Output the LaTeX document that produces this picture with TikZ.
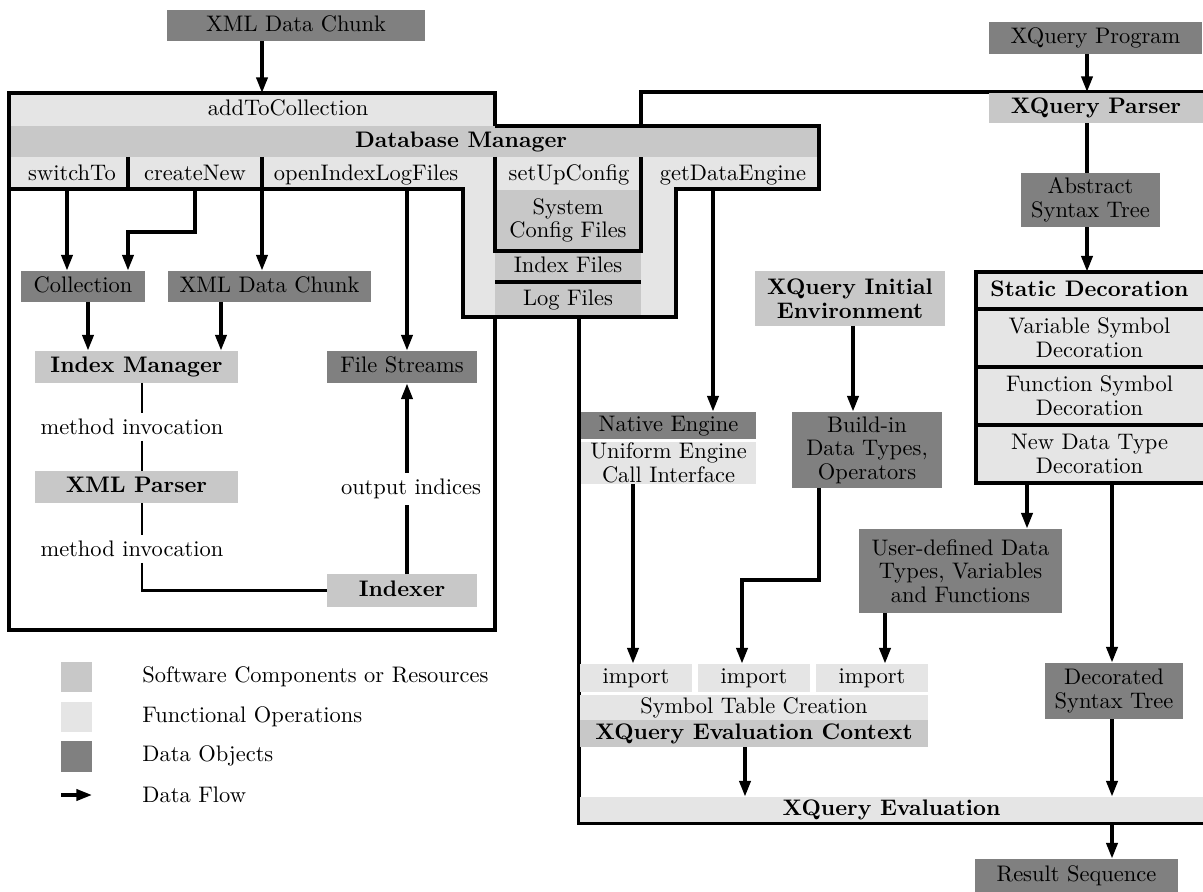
\documentclass[tikz,border=0pt]{standalone}
\usetikzlibrary{arrows.meta}
\definecolor{dk}{HTML}{808080}
\definecolor{md}{HTML}{C8C8C8}
\definecolor{lt}{HTML}{E5E5E5}
\tikzset{
  every node/.style={font=\fontsize{10pt}{10.5pt}\selectfont, align=center, inner sep=0pt},
  dkbox/.style={fill=dk},
  mdbox/.style={fill=md},
  ltbox/.style={fill=lt},
  one/.style={text height=7pt, text depth=2pt},
  lbl/.style={inner sep=2.5pt},
  arr/.style={line width=1.5pt, -{Triangle[length=7pt,width=5pt]}},
  ln/.style={line width=1.5pt},
  thinln/.style={line width=1pt},
  frame/.style={line width=1.4pt},
}
\newcommand\bx[7]{\node[#2, minimum width={(#5-#3)*0.445pt}, minimum height={(#6-#4)*0.445pt}] (#1) at ({(#3+#5)/2},{(#4+#6)/2}) {#7};}
\begin{document}
\begin{tikzpicture}[x=0.445pt,y=-0.445pt]
\useasboundingbox (0,0) rectangle (1203,892);

% ---------- Database Manager fills ----------
\fill[lt] (9,93) rectangle (495,126);
\fill[md] (9,126) rectangle (819,157);
\fill[lt] (9,157) rectangle (819,189);
\fill[lt] (463,189) rectangle (676,317);
\bx{sysc}{mdbox}{495}{190}{641}{251}{System\\Config Files}
\bx{ixf}{mdbox,one}{495}{251}{641}{282}{Index Files}
\bx{lgf}{mdbox,one}{495}{282}{641}{317}{Log Files}

\node[anchor=base] (addc) at (288,116) {addToCollection};
\node[anchor=base] (dbm) at (461,148) {\textbf{Database Manager}};
\node[anchor=base] (swt) at (72,181) {switchTo};
\node[anchor=base] (crn) at (195,181) {createNew};
\node[anchor=base] (oil) at (366,181) {openIndexLogFiles};
\node[anchor=base] (suc) at (569,181) {setUpConfig};
\node[anchor=base] (gde) at (733,181) {getDataEngine};

% ---------- outlines ----------
\draw[frame] (495,126) -- (495,93) -- (9,93) -- (9,630) -- (495,630) -- (495,317);
\draw[frame] (9,189) -- (463,189) -- (463,317) -- (676,317) -- (676,189) -- (819,189) -- (819,126) -- (495,126);
\draw[frame] (128,157) -- (128,189);
\draw[frame] (262,157) -- (262,189);
\draw[frame] (495,157) -- (495,251) -- (641,251) -- (641,157);
\draw[frame] (495,282) -- (641,282);
\draw[frame] (641,126) -- (641,92) -- (1210,92);
\draw[frame] (579,317) -- (579,823) -- (1210,823);

% ---------- left part ----------
\bx{xdc}{dkbox,one}{167}{10}{425}{41}{XML Data Chunk}
\bx{coll}{dkbox,one}{21}{271}{145}{302}{Collection}
\bx{xdcb}{dkbox,one}{168}{271}{371}{302}{XML Data Chunk}
\bx{im}{mdbox,one}{35}{351}{238}{383}{\textbf{Index Manager}}
\bx{fs}{dkbox,one}{327}{351}{477}{383}{File Streams}
\bx{xp}{mdbox,one}{35}{471}{238}{503}{\textbf{XML Parser}}
\bx{idx}{mdbox,one}{327}{574}{477}{607}{\textbf{Indexer}}
\node[lbl] (mia) at (132,427) {method invocation};
\node[lbl] (mib) at (132,549) {method invocation};
\node[lbl] (oi) at (411,489) {output indices};

% ---------- right part ----------
\bx{xqp}{dkbox,one}{989}{22}{1202}{54}{XQuery Program}
\bx{parser}{mdbox,one}{989}{93}{1203}{123}{\textbf{XQuery Parser}}
\bx{ast}{dkbox}{1021}{173}{1160}{227}{Abstract\\Syntax Tree}
\bx{sda}{ltbox,one}{976}{272}{1203}{309}{\textbf{Static Decoration}}
\bx{sdb}{ltbox}{976}{309}{1203}{367}{Variable Symbol\\Decoration}
\bx{sdc}{ltbox}{976}{367}{1203}{425}{Function Symbol\\Decoration}
\bx{sdd}{ltbox}{976}{425}{1203}{483}{New Data Type\\Decoration}
\draw[frame] (1210,272) -- (976,272) -- (976,483) -- (1210,483);
\draw[frame] (976,309) -- (1210,309);
\draw[frame] (976,367) -- (1210,367);
\draw[frame] (976,425) -- (1210,425);

\bx{env}{mdbox}{755}{271}{945}{326}{\textbf{XQuery Initial}\\\textbf{Environment}}
\bx{ne}{dkbox,one}{581}{412}{756}{439}{Native Engine}
\bx{ueci}{ltbox}{581}{442}{756}{484}{Uniform Engine\\Call Interface}
\bx{bi}{dkbox}{792}{412}{942}{488}{Build-in\\Data Types,\\Operators}
\bx{ud}{dkbox}{859}{529}{1062}{613}{User-defined Data\\Types, Variables\\and Functions}
\bx{impa}{ltbox,one}{580}{664}{692}{692}{import}
\bx{impb}{ltbox,one}{698}{664}{810}{692}{import}
\bx{impc}{ltbox,one}{816}{664}{928}{692}{import}
\bx{stc}{ltbox,one}{580}{695}{928}{720}{Symbol Table Creation}
\bx{ctx}{mdbox,one}{580}{720}{928}{747}{\textbf{XQuery Evaluation Context}}
\bx{dst}{dkbox}{1045}{663}{1183}{719}{Decorated\\Syntax Tree}
\bx{eval}{ltbox,one}{580}{797}{1203}{822}{\textbf{XQuery Evaluation}}
\bx{rs}{dkbox,one}{975}{859}{1178}{892}{Result Sequence}

% ---------- legend ----------
\bx{lga}{mdbox}{61}{662}{92}{692}{}
\bx{lgb}{ltbox}{61}{702}{92}{732}{}
\bx{lgc}{dkbox}{61}{741}{92}{772}{}
\coordinate (lgs) at (61,795);
\coordinate (lge) at (92,795);
\node[anchor=west] (lta) at (142,677) {Software Components or Resources};
\node[anchor=west] (ltb) at (142,717) {Functional Operations};
\node[anchor=west] (ltc) at (142,756) {Data Objects};
\node[anchor=west] (ltd) at (142,795) {Data Flow};
\draw[arr] (lgs) -- (lge);

% ---------- connectors ----------
\coordinate (c1) at (262,93);
\draw[arr] (xdc.south -| c1) -- (c1);
\coordinate (sw) at (67,189);
\draw[arr] (sw) -- (sw |- coll.north);
\coordinate (cn) at (195,189);
\coordinate (cnb) at (128,232);
\draw[arr] (cn) |- (cnb) -- (cnb |- coll.north);
\coordinate (oa) at (262,189);
\draw[arr] (oa) -- (oa |- xdcb.north);
\coordinate (ob) at (407,189);
\draw[arr] (ob) -- (ob |- fs.north);
\coordinate (ca) at (88,302);
\draw[arr] (ca) -- (ca |- im.north);
\coordinate (cb) at (221,302);
\draw[arr] (cb) -- (cb |- im.north);
\coordinate (ma) at (142,383);
\draw[thinln] (ma) -- (ma |- mia.north);
\draw[thinln] (ma |- mia.south) -- (ma |- xp.north);
\draw[thinln] (ma |- xp.south) -- (ma |- mib.north);
\draw[thinln] (ma |- mib.south) |- (idx.west);
\coordinate (ia) at (407,574);
\draw[ln] (ia) -- (ia |- oi.south);
\draw[arr] (ia |- oi.north) -- (ia |- fs.south);

\coordinate (gd) at (713,189);
\draw[arr] (gd) -- (gd |- ne.north);
\coordinate (ea) at (853,326);
\draw[arr] (ea) -- (ea |- bi.north);
\coordinate (ua) at (633,484);
\draw[arr] (ua) -- (ua |- impa.north);
\coordinate (ba) at (819,488);
\coordinate (bb) at (742,580);
\draw[arr] (ba) |- (bb) -- (bb |- impb.north);
\coordinate (uda) at (885,613);
\draw[arr] (uda) -- (uda |- impc.north);

\coordinate (pa) at (1087,54);
\coordinate (pb) at (1087,92);
\draw[arr] (pa) -- (pb);
\draw[ln] (pa |- parser.south) -- (pa |- ast.north);
\draw[arr] (pa |- ast.south) -- (pa |- sda.north);
\coordinate (sa) at (1027,483);
\draw[arr] (sa) -- (sa |- ud.north);
\coordinate (sb) at (1112,483);
\draw[arr] (sb) -- (sb |- dst.north);
\coordinate (xa) at (745,747);
\draw[arr] (xa) -- (xa |- eval.north);
\draw[arr] (sb |- dst.south) -- (sb |- eval.north);
\draw[arr] (sb |- eval.south) -- (sb |- rs.north);
\end{tikzpicture}
\end{document}
